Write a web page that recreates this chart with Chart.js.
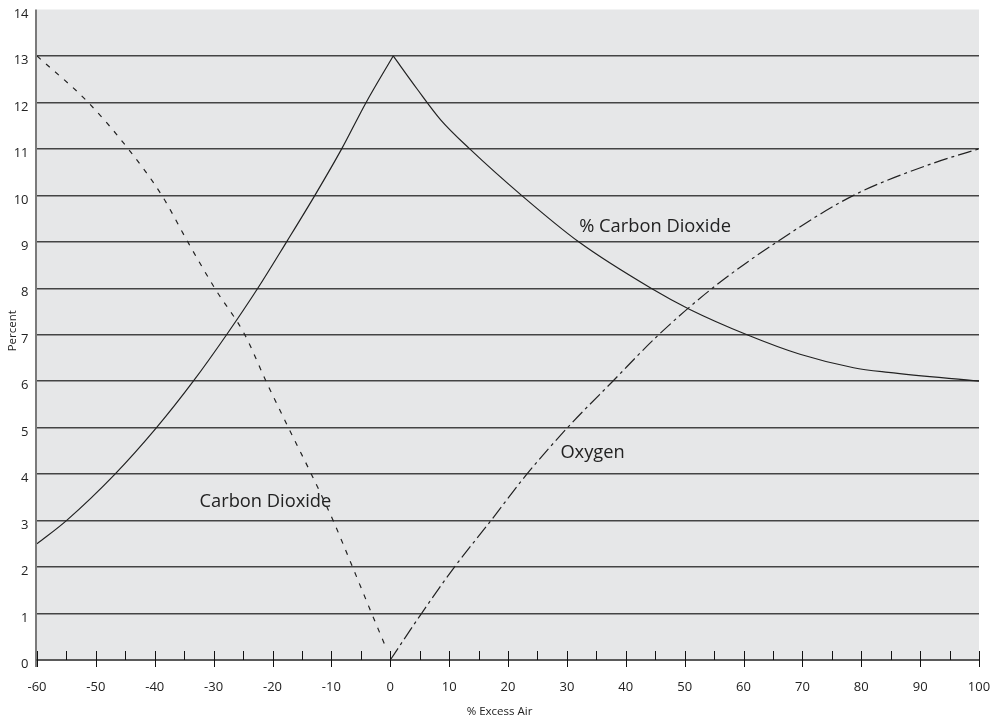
<!DOCTYPE html>
<html>
<head>
<meta charset="utf-8">
<script src="https://cdn.jsdelivr.net/npm/chart.js@4.4.1/dist/chart.umd.min.js"></script>
<style>
  body { margin: 0; background: #ffffff; }
  canvas { display: block; }
</style>
</head>
<body>
<canvas id="chart" width="999" height="722"></canvas>
<script>
// values (x = % excess air, y = percent)
const co2RiseX = [-60, -55, -46.75, -39.7, -33.45, -27.8, -22.5, -17.6, -12.8, -8.25, -4.1, 0.5];
const co2RiseY = [2.5, 3, 4, 5, 6, 7, 8, 9, 10, 11, 12, 13];

const co2FallX = [0.5, 4.5, 8.6, 13.5, 22.3, 32.0, 44.3, 50.8, 60.6, 69.6, 78.7, 84.6, 100];
const co2FallY = [13, 12.3, 11.62, 11.0, 10.0, 9.0, 8.0, 7.55, 7.0, 6.58, 6.29, 6.19, 6.0];

const co2DashX = [-60, -51.3, -44.5, -38.8, -34.4, -29.8, -24.7, -21.1, -17.3, -13.4, -9.7, -6.4, -3.15, -1.0];
const co2DashY = [13, 12, 11, 10, 9, 8, 7, 6, 5, 4, 3, 2, 1, 0.35];

const oxygenX = [0, 5.3, 10.9, 17.1, 23.2, 30.1, 37.8, 45.6, 54.7, 65.7, 78.7, 92.4, 100];
const oxygenY = [0, 1, 2, 3, 4, 5, 6, 7, 8, 9, 10, 10.7, 11];

const xTicksMin = -60, xTicksMax = 100, xStep = 10;
const yTicksMin = 0, yTicksMax = 14;

const curveLabels = [
  { text: "% Carbon Dioxide", x: 32.1, y: 9.33 },
  { text: "Oxygen", x: 28.9, y: 4.45 },
  { text: "Carbon Dioxide", x: -32.4, y: 3.41 }
];
const xTitle = "% Excess Air";
const yTitle = "Percent";

const toPoints = (xs, ys) => xs.map((x, i) => ({ x: x, y: ys[i] }));

const lineColor = "#222222";
const plotGray = "#e6e7e8";
const labelFont = "'Open Sans', 'Noto Sans', sans-serif";
const tickFont = "'Liberation Sans Narrow', 'Open Sans', sans-serif";

const noScalePadding = (s) => {
  s.paddingLeft = 0;
  s.paddingRight = 0;
  s.paddingTop = 0;
  s.paddingBottom = 0;
};

const plotBackground = {
  id: "plotBackground",
  beforeDraw(chart) {
    const { ctx, chartArea: a } = chart;
    ctx.save();
    ctx.fillStyle = plotGray;
    ctx.fillRect(a.left, a.top, a.right - a.left, a.bottom - a.top);
    ctx.restore();
  }
};

const axesAndText = {
  id: "axesAndText",
  afterDraw(chart) {
    const { ctx, chartArea: a, scales } = chart;
    const xs = scales.x;
    ctx.save();

    // y axis line
    ctx.strokeStyle = "#7a7a7a";
    ctx.lineWidth = 2;
    ctx.beginPath();
    ctx.moveTo(a.left - 1, a.top);
    ctx.lineTo(a.left - 1, a.bottom + 7);
    ctx.stroke();

    // x axis line
    ctx.strokeStyle = "#5a5a5a";
    ctx.lineWidth = 2;
    ctx.beginPath();
    ctx.moveTo(a.left - 1, a.bottom);
    ctx.lineTo(a.right, a.bottom);
    ctx.stroke();

    // tick marks: majors every 10 cross the axis, minors every 5 above only
    ctx.strokeStyle = "#111111";
    ctx.lineWidth = 1;
    for (let v = xTicksMin; v <= xTicksMax; v += 5) {
      const px = Math.round(xs.getPixelForValue(v)) + 0.5;
      const major = v % 10 === 0;
      ctx.beginPath();
      ctx.moveTo(px, a.bottom - 9);
      ctx.lineTo(px, major ? a.bottom + 7 : a.bottom);
      ctx.stroke();
    }

    // curve labels
    ctx.fillStyle = "#222222";
    ctx.font = "18.3px " + labelFont;
    ctx.textAlign = "left";
    ctx.textBaseline = "middle";
    curveLabels.forEach((l) => {
      ctx.fillText(l.text, xs.getPixelForValue(l.x), scales.y.getPixelForValue(l.y));
    });

    // axis titles
    ctx.font = "11.5px " + labelFont;
    ctx.textAlign = "center";
    ctx.fillText(xTitle, chart.width / 2, 712);
    ctx.translate(12.5, (a.top + a.bottom) / 2 - 4);
    ctx.rotate(-Math.PI / 2);
    ctx.fillText(yTitle, 0, 0);

    ctx.restore();
  }
};

const ctx = document.getElementById("chart").getContext("2d");

new Chart(ctx, {
  type: "line",
  data: {
    datasets: [
      {
        label: "CO2 rising",
        data: toPoints(co2RiseX, co2RiseY),
        borderColor: lineColor,
        borderWidth: 1.2,
        cubicInterpolationMode: "monotone"
      },
      {
        label: "% Carbon Dioxide",
        data: toPoints(co2FallX, co2FallY),
        borderColor: lineColor,
        borderWidth: 1.2,
        cubicInterpolationMode: "monotone"
      },
      {
        label: "Carbon Dioxide",
        data: toPoints(co2DashX, co2DashY),
        borderColor: lineColor,
        borderWidth: 1.2,
        borderDash: [5, 7],
        cubicInterpolationMode: "monotone"
      },
      {
        label: "Oxygen",
        data: toPoints(oxygenX, oxygenY),
        borderColor: lineColor,
        borderWidth: 1.2,
        borderDash: [14, 4, 3, 4],
        cubicInterpolationMode: "monotone"
      }
    ]
  },
  options: {
    responsive: false,
    animation: false,
    devicePixelRatio: 1,
    layout: { padding: { top: 9.5, right: 20, left: 0, bottom: 0 } },
    elements: { point: { radius: 0 } },
    plugins: {
      legend: { display: false },
      tooltip: { enabled: false }
    },
    scales: {
      x: {
        type: "linear",
        min: xTicksMin,
        max: xTicksMax,
        afterFit: (s) => { s.height = 62; noScalePadding(s); },
        grid: { display: false, drawTicks: false },
        border: { display: false },
        ticks: {
          stepSize: xStep,
          autoSkip: false,
          maxRotation: 0,
          padding: 19.2,
          color: "#222222",
          font: { family: tickFont, size: 13 }
        }
      },
      y: {
        min: yTicksMin,
        max: yTicksMax,
        afterFit: (s) => { s.width = 37; noScalePadding(s); },
        grid: {
          drawTicks: false,
          color: (c) => (c.tick && c.tick.value > yTicksMin && c.tick.value < yTicksMax ? "#444444" : "rgba(0,0,0,0)"),
          lineWidth: 1.5
        },
        border: { display: false },
        ticks: {
          stepSize: 1,
          autoSkip: false,
          padding: 8.5,
          labelOffset: 4.5,
          color: "#222222",
          font: { family: tickFont, size: 13 }
        }
      }
    }
  },
  plugins: [plotBackground, axesAndText]
});
</script>
</body>
</html>
